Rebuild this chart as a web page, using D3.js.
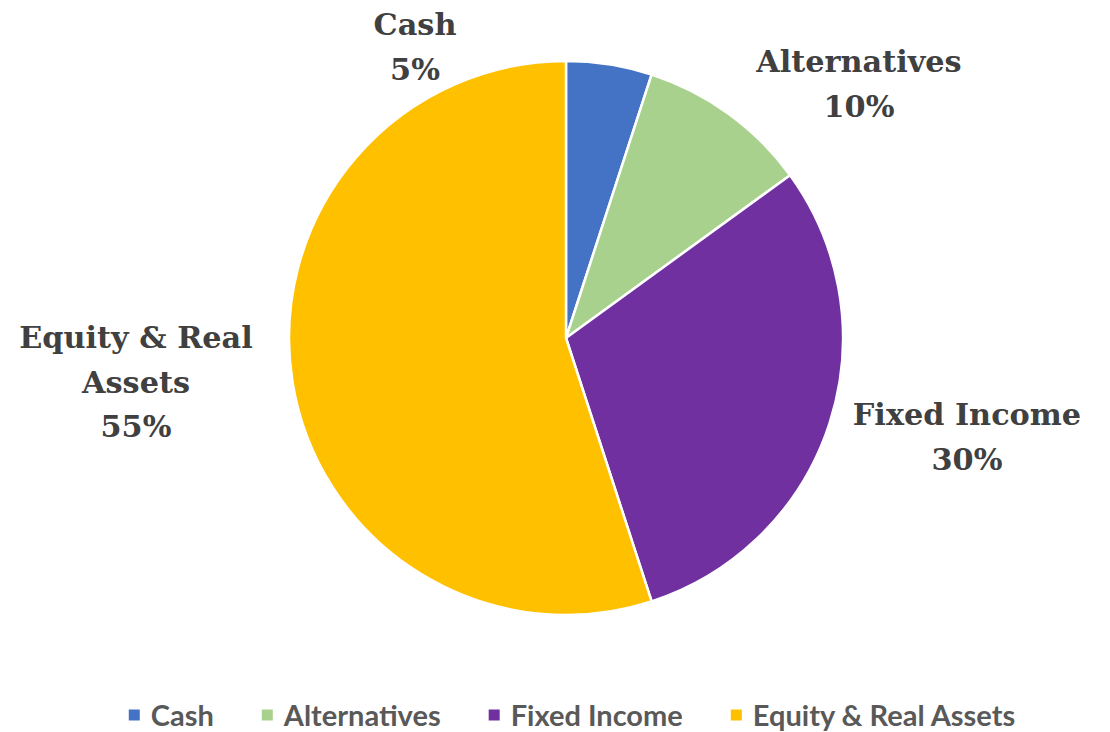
<!DOCTYPE html>
<html>
<head>
<meta charset="utf-8">
<script src="https://cdn.jsdelivr.net/npm/d3@7"></script>
<style>
  html, body { margin: 0; padding: 0; background: #fff; }
  svg { display: block; }
</style>
</head>
<body>
<svg id="chart" width="1110" height="732"></svg>
<script>
const categories = ["Cash", "Alternatives", "Fixed Income", "Equity & Real Assets"];
const values = [5, 10, 30, 55];
const colors = ["#4472C4", "#A9D18E", "#7030A0", "#FFC000"];
// label lines as displayed on the chart
const labelLines = [["Cash", "5%"], ["Alternatives", "10%"], ["Fixed Income", "30%"], ["Equity & Real", "Assets", "55%"]];

const W = 1110, H = 732;
const cx = 566, cy = 338, R = 277;
const svg = d3.select("#chart");

const data = categories.map((c, i) => ({ name: c, value: values[i], color: colors[i], lines: labelLines[i] }));

const pie = d3.pie().value(d => d.value).sort(null);
const arcs = pie(data);
const arc = d3.arc().innerRadius(0).outerRadius(R);

const g = svg.append("g").attr("transform", `translate(${cx},${cy})`);
g.selectAll("path").data(arcs).join("path")
  .attr("d", arc)
  .attr("fill", d => d.data.color)
  .attr("stroke", "#fff")
  .attr("stroke-width", 2.5)
  .attr("stroke-linejoin", "round");

// label anchor offsets (outside the pie, as in the reference)
const labelPos = [
  { x: 415 - cx, y: 35 - cy },
  { x: 859 - cx, y: 72 - cy },
  { x: 967 - cx, y: 425 - cy },
  { x: 136 - cx, y: 348 - cy }
];
const lineH = 44.5;
const labels = g.selectAll("text.lbl").data(arcs).join("text")
  .attr("class", "lbl")
  .attr("text-anchor", "middle")
  .attr("font-family", "'DejaVu Serif', serif")
  .attr("font-weight", "bold")
  .attr("font-size", 30.3)
  .attr("fill", "#404040")
  .attr("transform", (d, i) => `translate(${labelPos[i].x},${labelPos[i].y})`);
labels.selectAll("tspan").data(d => d.data.lines).join("tspan")
  .attr("x", 0)
  .attr("y", (t, j) => j * lineH)
  .text(t => t);

// legend
const legend = svg.append("g").attr("class", "legend");
const fs = 29, sq = 11, sqGap = 11, itemGap = 48;
const items = legend.selectAll("g").data(data).join("g");
items.append("rect").attr("width", sq).attr("height", sq).attr("y", -sq / 2 - 1).attr("fill", d => d.color);
items.append("text").attr("x", sq + sqGap).attr("dy", "0.35em")
  .attr("font-family", "Lato, 'Noto Sans', sans-serif")
  .attr("font-weight", "bold")
  .attr("font-size", fs)
  .attr("fill", "#595959")
  .text(d => d.name);
let widths = [];
items.each(function () { widths.push(this.getBBox().width); });
const total = d3.sum(widths) + itemGap * (widths.length - 1);
let x0 = 572 - total / 2;
items.attr("transform", (d, i) => {
  const t = `translate(${x0},716)`;
  x0 += widths[i] + itemGap;
  return t;
});
</script>
</body>
</html>
